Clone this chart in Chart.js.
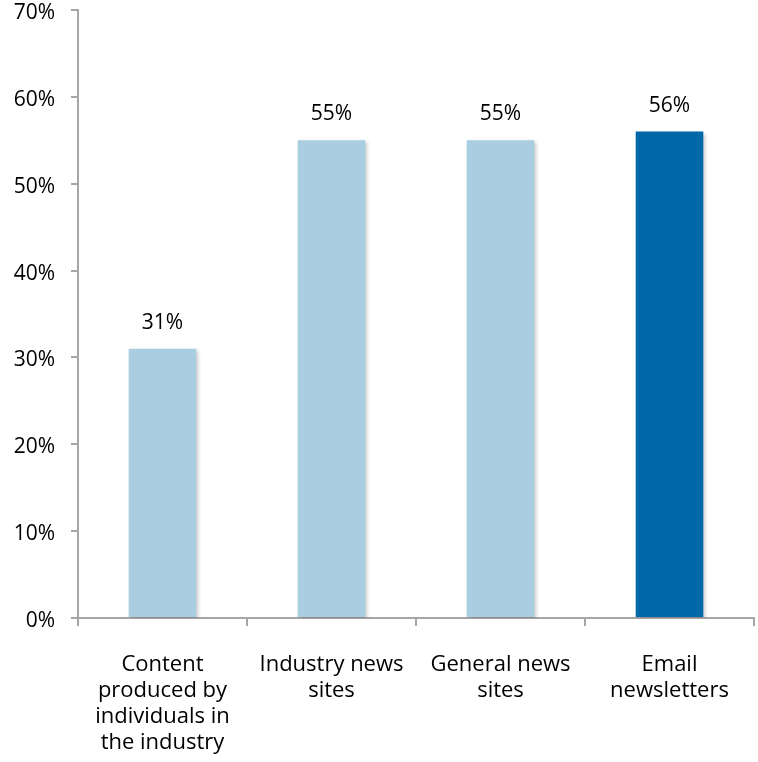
<!DOCTYPE html>
<html>
<head>
<meta charset="utf-8">
<script src="https://cdn.jsdelivr.net/npm/chart.js@4.4.0/dist/chart.umd.min.js"></script>
<style>
  html, body { margin: 0; padding: 0; background: #fff; }
  #wrap { width: 758px; height: 762px; }
</style>
</head>
<body>
<div id="wrap"><canvas id="news-chart" width="758" height="762"></canvas></div>
<script>
// Sumber berita yang dipakai, dalam persen
const categories = [
    ['Content', 'produced by', 'individuals in', 'the industry'],
    ['Industry news', 'sites'],
    ['General news', 'sites'],
    ['Email', 'newsletters']
];
const shares = [31, 55, 55, 56];
const barColors = ['#A9CDE1', '#A9CDE1', '#A9CDE1', '#0067A8'];
const yTicks = [0, 10, 20, 30, 40, 50, 60, 70];

const axisGrey = '#A6A6A6';
const fontFamily = '"Open Sans", Lato, sans-serif';

// Bayangan tipis di bawah batang
const barShadow = {
    id: 'barShadow',
    beforeDatasetsDraw(chart) {
        const ctx = chart.ctx;
        ctx.save();
        ctx.shadowColor = 'rgba(0,0,0,0.22)';
        ctx.shadowBlur = 4;
        ctx.shadowOffsetX = 2;
        ctx.shadowOffsetY = 2;
    },
    afterDatasetsDraw(chart) {
        chart.ctx.restore();
    }
};

// Label nilai di atas tiap batang
const valueLabels = {
    id: 'valueLabels',
    afterDatasetsDraw(chart) {
        const ctx = chart.ctx;
        const meta = chart.getDatasetMeta(0);
        ctx.save();
        ctx.font = '21px ' + fontFamily;
        ctx.fillStyle = '#000';
        ctx.textAlign = 'center';
        ctx.textBaseline = 'middle';
        meta.data.forEach((bar, i) => {
            ctx.fillText(shares[i] + '%', bar.x, bar.y - 26);
        });
        ctx.restore();
    }
};

new Chart(document.getElementById('news-chart'), {
    type: 'bar',
    data: {
        labels: categories,
        datasets: [{
            data: shares,
            backgroundColor: barColors,
            borderWidth: 0,
            categoryPercentage: 1,
            barPercentage: 0.4
        }]
    },
    options: {
        responsive: false,
        animation: false,
        layout: { padding: { top: 10, right: 4, bottom: 0, left: 0 } },
        plugins: {
            legend: { display: false },
            tooltip: { enabled: false }
        },
        scales: {
            y: {
                min: 0,
                max: 70,
                afterBuildTicks(scale) {
                    scale.ticks = yTicks.map(v => ({ value: v }));
                },
                afterFit(scale) {
                    scale.width = 78;
                    scale.paddingTop = 0;
                    scale.paddingBottom = 0;
                },
                ticks: {
                    callback: v => v + '%',
                    color: '#000',
                    padding: 16,
                    labelOffset: 3,
                    font: { family: fontFamily, size: 21 }
                },
                grid: { drawOnChartArea: false, tickLength: 7, color: axisGrey, lineWidth: 2 },
                border: { color: axisGrey, width: 2 }
            },
            x: {
                offset: true,
                afterFit(scale) { scale.height = 144; },
                ticks: {
                    color: '#000',
                    padding: 26,
                    maxRotation: 0,
                    font: { family: fontFamily, size: 22, lineHeight: 1.18 }
                },
                grid: { offset: true, drawOnChartArea: false, tickLength: 8, color: axisGrey, lineWidth: 2 },
                border: { color: axisGrey, width: 2 }
            }
        }
    },
    plugins: [barShadow, valueLabels]
});
</script>
</body>
</html>
